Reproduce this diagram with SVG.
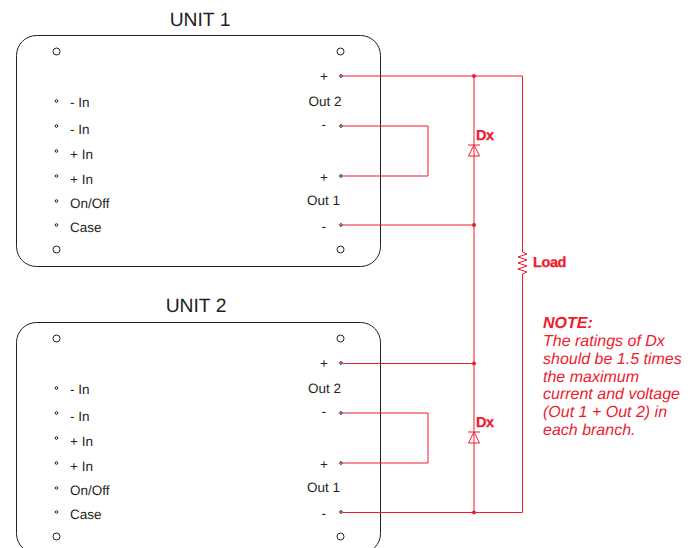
<svg xmlns="http://www.w3.org/2000/svg" width="698" height="548" viewBox="0 0 698 548">
<style>
text{font-family:"Liberation Sans",Arial,sans-serif;font-size:13.500px;fill:#231f20;text-rendering:geometricPrecision}
.title{font-size:19.300px;text-anchor:middle}
.box{fill:none;stroke:#231f20;stroke-width:1}
.hole{fill:none;stroke:#231f20;stroke-width:1}
.pin{fill:none;stroke:#231f20;stroke-width:1}
.w{fill:none;stroke:#ed1c2e;stroke-width:1}
.dot{fill:#ed1c2e}
.red{fill:#ed1c2e;font-weight:bold;font-size:14.500px;letter-spacing:-.4px;stroke:#ed1c2e;stroke-width:.3px}
.note{fill:#ed1c2e;font-style:italic;font-size:16px}
</style>
<defs>
<g id="unit">
<rect class="box" x="16.500" y="35.500" width="364" height="231" rx="20" ry="20"/>
<circle class="hole" cx="56.500" cy="51.500" r="3.500"/>
<circle class="hole" cx="340.500" cy="51.500" r="3.500"/>
<circle class="hole" cx="56.500" cy="249.500" r="3.500"/>
<circle class="hole" cx="340.500" cy="249.500" r="3.500"/>
<circle class="pin" cx="56.500" cy="101" r="1.300"/>
<circle class="pin" cx="56.500" cy="126" r="1.300"/>
<circle class="pin" cx="56.500" cy="151" r="1.300"/>
<circle class="pin" cx="56.500" cy="176" r="1.300"/>
<circle class="pin" cx="56.500" cy="201" r="1.300"/>
<circle class="pin" cx="56.500" cy="225" r="1.300"/>
<circle class="pin" cx="341" cy="76" r="1.300"/>
<circle class="pin" cx="341" cy="126" r="1.300"/>
<circle class="pin" cx="341" cy="176" r="1.300"/>
<circle class="pin" cx="341" cy="225" r="1.300"/>
<text x="70" y="107">- In</text>
<text x="70" y="134">- In</text>
<text x="70" y="159">+ In</text>
<text x="70" y="184">+ In</text>
<text x="70" y="208">On/Off</text>
<text x="70" y="232">Case</text>
<text x="320" y="81">+</text>
<text x="321.500" y="129">-</text>
<text x="320" y="182">+</text>
<text x="321.500" y="231">-</text>
</g>
<g id="dx">
<path class="w" d="M474 145V157M468 145H480M474 145L468.500 156H479.500Z"/>
</g>
</defs>
<g id="unit1">
<use href="#unit"/>
<text class="title" x="200" y="26">UNIT 1</text>
<text x="308.500" y="106">Out 2</text>
<text x="307" y="205">Out 1</text>
</g>
<g id="unit2">
<use href="#unit" y="287"/>
<text class="title" x="196" y="312">UNIT 2</text>
<text x="308" y="393">Out 2</text>
<text x="307" y="492">Out 1</text>
</g>
<g id="connectors">
<path class="w" d="M343 76H522.500V252L527 254L518 257L527 260L518 263L527 266L518 269L527 272L522.500 274V512.500H343"/>
<path class="w" d="M343 126H428V176H343"/>
<path class="w" d="M343 225H474"/>
<path class="w" d="M474 76V145M474 157V225V363.500"/>
<path class="w" d="M343 363.500H474"/>
<path class="w" d="M343 413H428V463H343"/>
<path class="w" d="M474 363.500V432M474 444V512.500"/>
<use href="#dx"/>
<use href="#dx" y="287"/>
<circle class="dot" cx="474" cy="76" r="2"/>
<circle class="dot" cx="474" cy="225" r="2"/>
<circle class="dot" cx="474" cy="363.500" r="2"/>
<circle class="dot" cx="474" cy="512.500" r="2"/>
</g>
<g id="labels">
<text class="red" x="476" y="140">Dx</text>
<text class="red" x="476" y="427">Dx</text>
<text class="red" x="533" y="267">Load</text>
<text class="note" x="543" y="328" style="font-weight:bold">NOTE:</text>
<text class="note" x="543" y="346">The ratings of Dx</text>
<text class="note" x="543" y="364">should be 1.5 times</text>
<text class="note" x="543" y="382">the maximum</text>
<text class="note" x="543" y="399">current and voltage</text>
<text class="note" x="543" y="417">(Out 1 + Out 2) in</text>
<text class="note" x="543" y="435">each branch.</text>
</g>
</svg>
